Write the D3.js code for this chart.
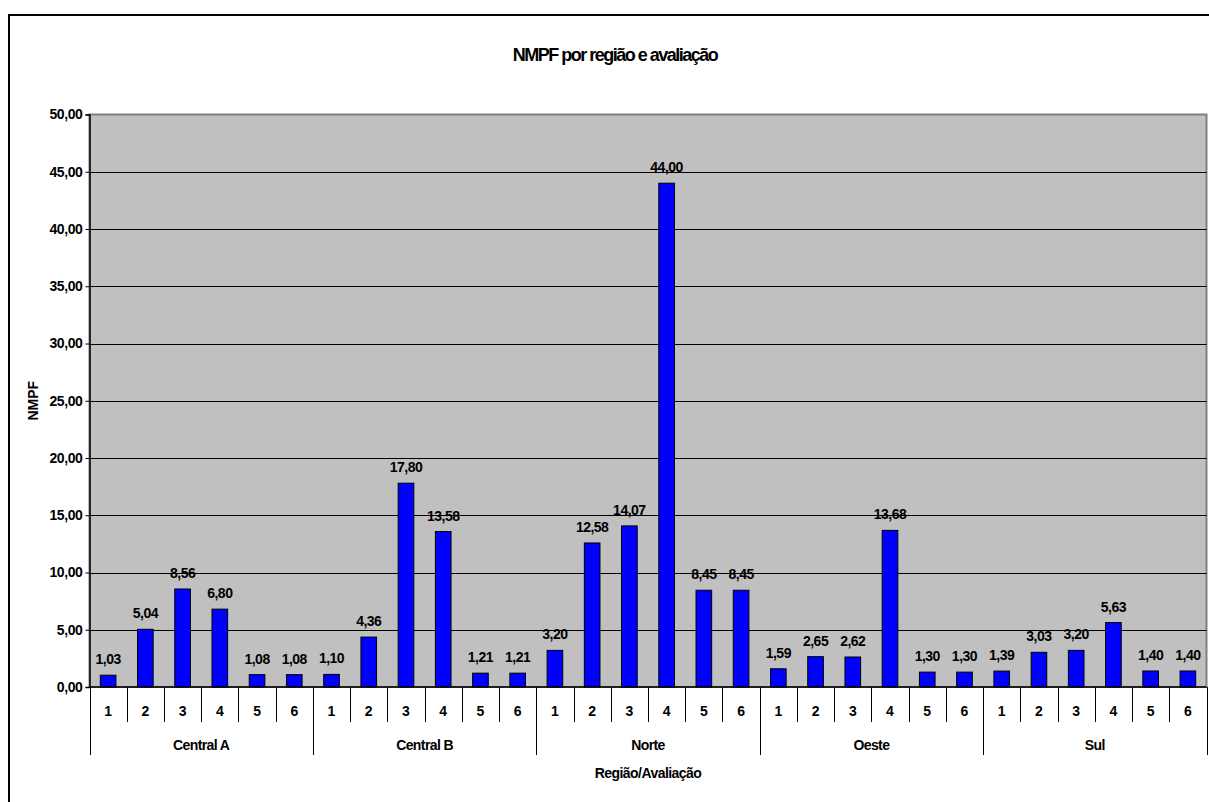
<!DOCTYPE html>
<html>
<head>
<meta charset="utf-8">
<script src="https://cdn.jsdelivr.net/npm/d3@7"></script>
<style>
  html, body { margin: 0; padding: 0; background: #fff; }
  svg { display: block; font-family: "Liberation Sans", Arial, sans-serif; }
</style>
</head>
<body>
<svg id="chart" width="1209" height="802"></svg>
<script>
const regions = ["Central A", "Central B", "Norte", "Oeste", "Sul"];
const evaluations = ["1", "2", "3", "4", "5", "6"];
const centralA = [1.03, 5.04, 8.56, 6.80, 1.08, 1.08];
const centralB = [1.10, 4.36, 17.80, 13.58, 1.21, 1.21];
const norte = [3.20, 12.58, 14.07, 44.00, 8.45, 8.45];
const oeste = [1.59, 2.65, 2.62, 13.68, 1.30, 1.30];
const sul = [1.39, 3.03, 3.20, 5.63, 1.40, 1.40];
const yTicks = [0, 5, 10, 15, 20, 25, 30, 35, 40, 45, 50];
const titleText = "NMPF por região e avaliação";
const yTitle = "NMPF";
const xTitle = "Região/Avaliação";

const seriesByRegion = [centralA, centralB, norte, oeste, sul];
const data = [];
regions.forEach((r, i) => evaluations.forEach((e, j) => data.push({ region: r, evalLabel: e, key: r + "|" + e, value: seriesByRegion[i][j] })));

const svg = d3.select("#chart");
const pL = 89.5, pR = 1206.5, pT = 114.5, pB = 687;

const x = d3.scaleBand().domain(data.map(d => d.key)).range([pL, pR]).padding(0);
const xg = d3.scaleBand().domain(regions).range([pL, pR]).padding(0);
const y = d3.scaleLinear().domain([0, 50]).range([pB, pT]);
const fmt = v => d3.format(".2f")(v).replace(".", ",");

// outer frame
svg.append("rect").attr("x", 9).attr("y", 15).attr("width", 1220).attr("height", 820)
  .attr("fill", "none").attr("stroke", "#000").attr("stroke-width", 2);

// title
svg.append("text").attr("x", 615).attr("y", 61).attr("text-anchor", "middle")
  .attr("font-size", 18).attr("font-weight", "bold").attr("letter-spacing", -1.5)
  .text(titleText);

// plot area
svg.append("rect").attr("x", pL).attr("y", pT).attr("width", pR - pL).attr("height", pB - pT)
  .attr("fill", "#C0C0C0").attr("stroke", "#808080").attr("stroke-width", 2);

// gridlines
svg.append("g").selectAll("line").data(yTicks.filter(t => t > 0 && t < 50)).join("line")
  .attr("x1", pL).attr("x2", pR)
  .attr("y1", d => Math.round(y(d)) + 0.5).attr("y2", d => Math.round(y(d)) + 0.5)
  .attr("stroke", "#000").attr("stroke-width", 1);

// y axis
const yAxis = svg.append("g").attr("transform", `translate(${pL},0)`)
  .call(d3.axisLeft(y).tickValues(yTicks).tickFormat(fmt).tickSize(4).tickPadding(3));
yAxis.select(".domain").attr("stroke", "#000").attr("stroke-width", 1.5);
yAxis.selectAll(".tick line").attr("stroke", "#000");
yAxis.selectAll(".tick text").attr("font-size", 14).attr("font-weight", "bold")
  .attr("letter-spacing", -0.4).attr("fill", "#000").attr("font-family", "Liberation Sans, Arial, sans-serif");

// bars
const bw = x.bandwidth() * 0.42;
svg.append("g").selectAll("rect").data(data).join("rect")
  .attr("x", d => x(d.key) + (x.bandwidth() - bw) / 2)
  .attr("y", d => y(d.value))
  .attr("width", bw)
  .attr("height", d => y(0) - y(d.value))
  .attr("fill", "#0000FF").attr("stroke", "#000").attr("stroke-width", 1);

// data labels
svg.append("g").selectAll("text").data(data).join("text")
  .attr("x", d => x(d.key) + x.bandwidth() / 2)
  .attr("y", d => y(d.value) - 11)
  .attr("text-anchor", "middle").attr("font-size", 14).attr("font-weight", "bold")
  .attr("letter-spacing", -0.5)
  .text(d => fmt(d.value));

// x axis baseline
svg.append("line").attr("x1", pL).attr("x2", pR).attr("y1", pB).attr("y2", pB)
  .attr("stroke", "#000").attr("stroke-width", 1.5);

// category separators
const xa = svg.append("g");
xa.selectAll("line.cat").data(data.slice(1)).join("line").attr("class", "cat")
  .attr("x1", d => Math.round(x(d.key)) + 0.5).attr("x2", d => Math.round(x(d.key)) + 0.5)
  .attr("y1", pB).attr("y2", 722).attr("stroke", "#000");
// group separators
const gEdges = regions.map(r => xg(r)).concat([pR]);
xa.selectAll("line.grp").data(gEdges).join("line").attr("class", "grp")
  .attr("x1", d => Math.round(d) + 0.5).attr("x2", d => Math.round(d) + 0.5)
  .attr("y1", pB).attr("y2", 755).attr("stroke", "#000");

// category labels
xa.selectAll("text.cat").data(data).join("text").attr("class", "cat")
  .attr("x", d => x(d.key) + x.bandwidth() / 2).attr("y", 716)
  .attr("text-anchor", "middle").attr("font-size", 14).attr("font-weight", "bold")
  .text(d => d.evalLabel);
// group labels
xa.selectAll("text.grp").data(regions).join("text").attr("class", "grp")
  .attr("x", d => xg(d) + xg.bandwidth() / 2).attr("y", 750)
  .attr("text-anchor", "middle").attr("font-size", 14).attr("font-weight", "bold")
  .attr("letter-spacing", -0.6)
  .text(d => d);

// axis titles
svg.append("text").attr("x", (pL + pR) / 2).attr("y", 778).attr("text-anchor", "middle")
  .attr("font-size", 14).attr("font-weight", "bold").attr("letter-spacing", -0.55).text(xTitle);
svg.append("text").attr("transform", `translate(38,${(pT + pB) / 2}) rotate(-90)`)
  .attr("text-anchor", "middle").attr("font-size", 14).attr("font-weight", "bold").text(yTitle);
</script>
</body>
</html>
